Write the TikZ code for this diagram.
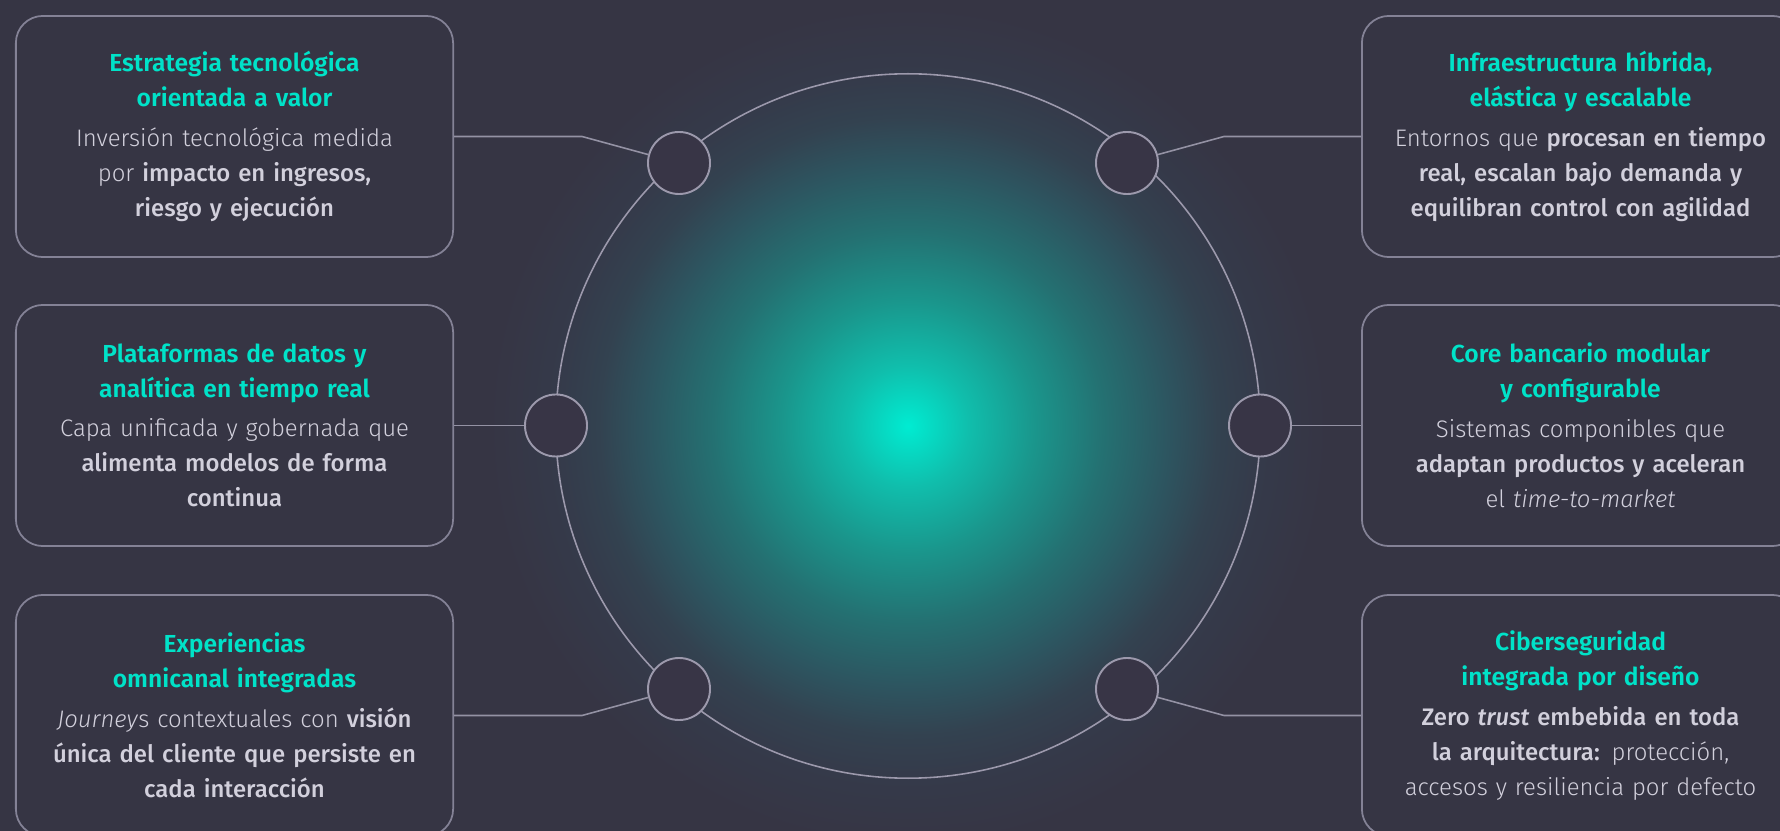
\documentclass[tikz,border=0pt]{standalone}
\usepackage{fontspec}
\setmainfont{Fira Sans}[UprightFont={* Light}, ItalicFont={* Light Italic},
  BoldFont={* Medium}, BoldItalicFont={* Medium Italic}]
\newfontfamily\titlefont{Fira Sans SemiBold}
\usetikzlibrary{positioning}

\definecolor{bgc}{RGB}{54,53,68}
\definecolor{cardline}{RGB}{132,130,150}
\definecolor{dotfill}{RGB}{56,53,70}
\definecolor{dotline}{RGB}{156,153,172}
\definecolor{wire}{RGB}{148,146,164}
\definecolor{tealtxt}{RGB}{0,226,200}
\definecolor{bodytxt}{RGB}{210,208,220}
\definecolor{glowA}{RGB}{0,236,210}
\definecolor{glowB}{RGB}{16,190,172}
\definecolor{glowC}{RGB}{26,150,140}
\definecolor{glowD}{RGB}{36,113,114}
\definecolor{glowE}{RGB}{45,85,96}
\definecolor{glowF}{RGB}{51,66,80}
\definecolor{glowG}{RGB}{53,58,74}

\pgfdeclareradialshading{orbglow}{\pgfpoint{0bp}{0bp}}{%
  color(0bp)=(glowA); color(3.6bp)=(glowB); color(7.5bp)=(glowC);
  color(11.6bp)=(glowD); color(15.5bp)=(glowE); color(18.4bp)=(glowF);
  color(21bp)=(glowG); color(25bp)=(bgc); color(50bp)=(bgc)}

\newcommand{\hd}[1]{{\color{tealtxt}\titlefont\fontsize{7.0}{9.8}\selectfont #1}\\[1.3pt]}

\begin{document}
\begin{tikzpicture}[
  x=0.01cm, y=-0.01cm,
  card/.style={draw=cardline, line width=0.5pt, fill=bgc, rounded corners=0.27cm,
               minimum width=4.37cm, minimum height=2.41cm, align=center,
               text width=4.3cm, inner sep=0pt,
               text=bodytxt, font=\fontsize{6.8}{9.96}\selectfont},
  orb/.style={circle, draw=dotline, line width=0.45pt, minimum size=7.04cm},
  dot/.style={circle, draw=dotline, fill=dotfill, line width=0.55pt,
              minimum size=0.62cm, inner sep=0pt},
  link/.style={draw=wire, line width=0.45pt}
]
  \useasboundingbox (0,0) rectangle (1780,831);
  \fill[bgc] (0,0) rectangle (1780,831);
  \clip (0,0) rectangle (1780,831);

  \shade[shading=orbglow] (908,426) circle (4.2cm);
  \node[orb] (orb) at (908,426) {};

  \node[card] (tl) at (234.5,136.5) {\hd{Estrategia tecnológica\\orientada a valor}
    Inversión tecnológica medida\\por \textbf{impacto en ingresos,}\\\textbf{riesgo y ejecución}};
  \node[card] (ml) at (234.5,425.5) {\hd{Plataformas de datos y\\analítica en tiempo real}
    Capa unificada y gobernada que\\\textbf{alimenta modelos de forma}\\\textbf{continua}};
  \node[card] (bl) at (234.5,715.5) {\hd{Experiencias\\omnicanal integradas}
    \textit{Journey}s contextuales con \textbf{visión}\\\textbf{única del cliente que persiste en}\\\textbf{cada interacción}};
  \node[card] (tr) at (1580.5,136.5) {\hd{Infraestructura híbrida,\\elástica y escalable}
    Entornos que \textbf{procesan en tiempo}\\\textbf{real, escalan bajo demanda y}\\\textbf{equilibran control con agilidad}};
  \node[card] (mr) at (1580.5,425.5) {\hd{Core bancario modular\\y configurable}
    Sistemas componibles que\\\textbf{adaptan productos y aceleran}\\el \textit{time-to-market}};
  \node[card] (br) at (1580.5,715.5) {\hd{Ciberseguridad\\integrada por diseño}
    \textbf{Zero \textit{trust} embebida en toda}\\\textbf{la arquitectura:} protección,\\accesos y resiliencia por defecto};

  \coordinate (ktl) at (582,136.5);
  \coordinate (ktr) at (1224,136.5);
  \coordinate (kbl) at (582,715.5);
  \coordinate (kbr) at (1224,715.5);

  \node[dot] (dtl) at (679,163) {};
  \node[dot] (dtr) at (1127,163) {};
  \node[dot] (dml) at (556,425.5) {};
  \node[dot] (dmr) at (1260,425.5) {};
  \node[dot] (dbl) at (679,689) {};
  \node[dot] (dbr) at (1127,689) {};

  \draw[link] (tl) -- (ktl) -- (dtl);
  \draw[link] (tr) -- (ktr) -- (dtr);
  \draw[link] (ml) -- (dml);
  \draw[link] (mr) -- (dmr);
  \draw[link] (bl) -- (kbl) -- (dbl);
  \draw[link] (br) -- (kbr) -- (dbr);
\end{tikzpicture}
\end{document}
